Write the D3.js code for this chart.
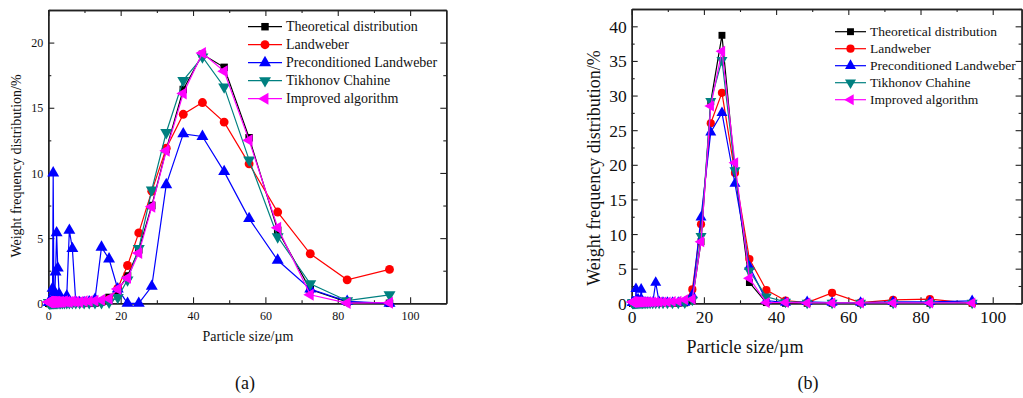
<!DOCTYPE html>
<html>
<head>
<meta charset="utf-8">
<script src="https://cdn.jsdelivr.net/npm/d3@7"></script>
<style>
  body { margin: 0; background: #fff; }
  svg { display: block; font-family: "Liberation Serif", "Times New Roman", serif; }
</style>
</head>
<body>
<div id="chart"></div>
<script>
// particle size classes (µm), shared by both panels
const sizes = [0.21, 0.24, 0.27, 0.31, 0.36, 0.41, 0.47, 0.53, 0.61, 0.69, 0.79, 0.90,
  1.03, 1.18, 1.35, 1.54, 1.76, 2.01, 2.30, 2.62, 3.00, 3.42, 3.91, 4.46, 5.10, 5.82,
  6.65, 7.59, 8.67, 9.90, 11.3, 12.9, 14.7, 16.8, 19.2, 21.9, 25.0, 28.6, 32.6, 37.3,
  42.6, 48.6, 55.5, 63.4, 72.4, 82.6, 94.3];

const seriesNames = ["Theoretical distribution", "Landweber", "Preconditioned Landweber",
  "Tikhonov Chahine", "Improved algorithm"];

// panel (a)
const theoA = [0, 0, 0, 0, 0, 0, 0, 0, 0, 0, 0, 0,
  0, 0, 0, 0, 0, 0, 0, 0, 0, 0, 0, 0, 0, 0,
  0, 0, 0, 0, 0, 0.02, 0.1, 0.45, 1.0, 2.1, 4.1, 7.5, 11.8, 16.4,
  19.1, 18.1, 12.7, 5.6, 1.05, 0.1, 0];
const landA = [0.05, 0.05, 0.05, 0.05, 0.05, 0.05, 0.05, 0.05, 0.05, 0.05, 0.05, 0.05,
  0.05, 0.05, 0.05, 0.05, 0.05, 0.05, 0.05, 0.05, 0.05, 0.05, 0.05, 0.05, 0.05, 0.05,
  0.05, 0.05, 0.05, 0.05, 0.08, 0.1, 0.15, 0.3, 1.15, 2.9, 5.4, 8.6, 11.9, 14.5,
  15.4, 13.9, 10.7, 7.0, 3.8, 1.8, 2.6];
const precA = [0.1, 0.05, 0.1, 0.05, 0.1, 0.05, 0.1, 0.05, 0.1, 0.1, 0.05, 0.1,
  0.2, 1.15, 10.0, 0.9, 0.3, 2.4, 5.4, 2.7, 0.7, 0.3, 0.2, 0.1, 0.55, 5.6,
  4.2, 0.1, 0.05, 0.05, 0.1, 0.3, 4.3, 3.4, 1.1, 0, 0, 1.3, 9.1, 13.0,
  12.8, 10.1, 6.5, 3.3, 1.1, 0.15, 0];
const tikhA = [0.05, 0.05, 0.05, 0.05, 0.05, 0.05, 0.05, 0.05, 0.05, 0.05, 0.05, 0.05,
  0.05, 0.05, 0.05, 0.05, 0.05, 0.05, 0.05, 0.05, 0.05, 0.05, 0.05, 0.05, 0.05, 0.05,
  0.05, 0.05, 0.05, 0.05, 0.05, 0.05, 0.05, 0.1, 0.45, 1.8, 4.2, 8.7, 13.1, 17.1,
  18.9, 16.6, 11.0, 5.1, 1.5, 0.2, 0.65];
const imprA = [0.1, 0.08, 0.1, 0.12, 0.1, 0.08, 0.1, 0.12, 0.1, 0.1, 0.08, 0.1,
  0.12, 0.1, 0.1, 0.12, 0.1, 0.1, 0.12, 0.1, 0.1, 0.12, 0.1, 0.15, 0.12, 0.1,
  0.15, 0.12, 0.1, 0.15, 0.15, 0.2, 0.25, 0.35, 1.1, 1.95, 3.85, 7.4, 11.7, 16.1,
  19.2, 17.8, 12.5, 5.8, 0.65, 0.02, 0.05];

// panel (b)
const theoB = [0, 0, 0, 0, 0, 0, 0, 0, 0, 0, 0, 0,
  0, 0, 0, 0, 0, 0, 0, 0, 0, 0, 0, 0, 0, 0,
  0, 0, 0, 0, 0, 0, 0.05, 0.5, 8.9, 29.1, 38.7, 19.1, 3.0, 0.1,
  0, 0, 0, 0, 0, 0, 0];
const landB = [0.05, 0.05, 0.05, 0.05, 0.05, 0.05, 0.05, 0.05, 0.05, 0.05, 0.05, 0.05,
  0.05, 0.05, 0.05, 0.05, 0.05, 0.05, 0.05, 0.05, 0.05, 0.05, 0.05, 0.05, 0.05, 0.05,
  0.05, 0.05, 0.05, 0.05, 0.05, 0.1, 0.3, 2.0, 11.4, 26.0, 30.4, 18.8, 6.4, 1.9,
  0.4, 0.1, 1.5, 0.1, 0.5, 0.6, 0];
const precB = [0.1, 0.1, 0.1, 0.1, 0.1, 0.1, 0.1, 0.1, 0.1, 0.1, 0.1, 0.1,
  0.1, 2.1, 0.4, 0.2, 0.6, 0.3, 0.2, 2.0, 0.3, 0.1, 0.1, 0.1, 0.1, 0.1,
  3.0, 0.2, 0.1, 0.1, 0.1, 0.1, 0.1, 1.2, 12.4, 24.7, 27.5, 17.3, 5.3, 0.4,
  0.1, 0.2, 0.1, 0.1, 0.2, 0.2, 0.35];
const tikhB = [0.05, 0.05, 0.05, 0.05, 0.05, 0.05, 0.05, 0.05, 0.05, 0.05, 0.05, 0.05,
  0.05, 0.05, 0.05, 0.05, 0.05, 0.05, 0.05, 0.05, 0.05, 0.05, 0.05, 0.05, 0.05, 0.05,
  0.05, 0.05, 0.05, 0.05, 0.05, 0.05, 0.1, 0.5, 9.7, 29.2, 35.1, 19.2, 4.7, 0.95,
  0.2, 0.05, 0.05, 0.05, 0.05, 0.05, 0.05];
const imprB = [0.2, 0.2, 0.2, 0.2, 0.2, 0.2, 0.2, 0.2, 0.2, 0.2, 0.2, 0.2,
  0.2, 0.2, 0.2, 0.2, 0.2, 0.2, 0.2, 0.2, 0.2, 0.2, 0.2, 0.2, 0.2, 0.2,
  0.2, 0.2, 0.2, 0.2, 0.25, 0.3, 0.5, 0.6, 8.9, 28.5, 36.4, 20.3, 3.6, 0.1,
  0.1, 0.05, 0.05, 0.05, 0.05, 0.05, 0.05];

const xTicks = [0, 20, 40, 60, 80, 100];
const xMinor = [10, 30, 50, 70, 90, 110];
const yTicksA = [0, 5, 10, 15, 20];
const yMinorA = [2.5, 7.5, 12.5, 17.5, 22.5];
const yTicksB = [0, 5, 10, 15, 20, 25, 30, 35, 40];
const yMinorB = [2.5, 7.5, 12.5, 17.5, 22.5, 27.5, 32.5, 37.5, 42.5];

const colors = ["#000000", "#ff0000", "#0000ff", "#008080", "#ff00ff"];
// symbol type + rotation for each series
const shapes = [
  { type: d3.symbolSquare, rot: 0, size: 56 },
  { type: d3.symbolCircle, rot: 0, size: 62 },
  { type: d3.symbolTriangle, rot: 0, size: 62 },
  { type: d3.symbolTriangle, rot: 180, size: 62 },
  { type: d3.symbolTriangle, rot: -90, size: 62 }
];

const svg = d3.select("#chart").append("svg")
  .attr("width", 1023)
  .attr("height", 398);

function drawPanel(p) {
  const x = d3.scaleLinear().domain(p.xDomain).range([p.left, p.right]);
  const y = d3.scaleLinear().domain(p.yDomain).range([p.bottom, p.top]);
  const g = svg.append("g");

  // frame + ticks (inward)
  const frameAxis = (axis, tr, vals, len, labels) => {
    const a = g.append("g").attr("transform", tr)
      .call(axis.tickValues(vals).tickSizeInner(len).tickSizeOuter(0)
        .tickFormat(labels ? d3.format("d") : ""));
    a.select(".domain").attr("stroke", "#222").attr("stroke-width", 1.4);
    a.selectAll(".tick line").attr("stroke", "#222").attr("stroke-width", 1.1);
    return a;
  };

  const bx = frameAxis(d3.axisBottom(x), `translate(0,${p.bottom})`, xTicks.filter(v => v <= p.xDomain[1]), -6, true);
  frameAxis(d3.axisBottom(x), `translate(0,${p.bottom})`, xMinor.filter(v => v < p.xDomain[1]), -3, false);
  frameAxis(d3.axisTop(x), `translate(0,${p.top})`, xTicks.filter(v => v <= p.xDomain[1]), -6, false);
  frameAxis(d3.axisTop(x), `translate(0,${p.top})`, xMinor.filter(v => v < p.xDomain[1]), -3, false);
  const ly = frameAxis(d3.axisLeft(y), `translate(${p.left},0)`, p.yTicks, -6, true);
  frameAxis(d3.axisLeft(y), `translate(${p.left},0)`, p.yMinor, -3, false);
  frameAxis(d3.axisRight(y), `translate(${p.right},0)`, p.yTicks, -6, false);
  frameAxis(d3.axisRight(y), `translate(${p.right},0)`, p.yMinor, -3, false);

  bx.selectAll(".tick text")
    .attr("font-family", "Liberation Serif").attr("font-size", p.tickFont)
    .attr("fill", "#111").attr("y", p.xLabelY).attr("dy", 0);
  ly.selectAll(".tick text")
    .attr("font-family", "Liberation Serif").attr("font-size", p.tickFont)
    .attr("fill", "#111").attr("x", -p.yLabelGap).attr("dy", "0.34em");

  // series lines + markers
  p.series.forEach((vals, i) => {
    const pts = sizes.map((s, k) => [s, vals[k]]);
    const line = d3.line().x(d => x(d[0])).y(d => y(d[1]));
    g.append("path")
      .attr("d", line(pts))
      .attr("fill", "none")
      .attr("stroke", colors[i])
      .attr("stroke-width", 1.2);
    const sym = d3.symbol().type(shapes[i].type).size(shapes[i].size * p.markScale);
    g.append("g").selectAll("path")
      .data(pts)
      .join("path")
      .attr("d", sym)
      .attr("fill", colors[i])
      .attr("transform", d => `translate(${x(d[0])},${y(d[1])}) rotate(${shapes[i].rot})`);
  });

  // legend
  seriesNames.forEach((name, i) => {
    const ry = p.legY + i * p.legStep;
    g.append("line")
      .attr("x1", p.legX1).attr("x2", p.legX2)
      .attr("y1", ry).attr("y2", ry)
      .attr("stroke", colors[i]).attr("stroke-width", 1.2);
    const sym = d3.symbol().type(shapes[i].type).size(shapes[i].size * p.markScale);
    g.append("path")
      .attr("d", sym)
      .attr("fill", colors[i])
      .attr("transform", `translate(${(p.legX1 + p.legX2) / 2},${ry}) rotate(${shapes[i].rot})`);
    g.append("text")
      .attr("x", p.legX2 + 4).attr("y", ry).attr("dy", "0.34em")
      .attr("font-size", p.legFont).attr("fill", "#111")
      .text(name);
  });

  // axis titles
  g.append("text")
    .attr("x", p.xTitleX).attr("y", p.xTitleY)
    .attr("text-anchor", "middle")
    .attr("font-size", p.titleFont).attr("fill", "#111")
    .text("Particle size/\u00b5m");
  g.append("text")
    .attr("transform", `translate(${p.yTitleX},${p.yTitleY}) rotate(-90)`)
    .attr("text-anchor", "middle")
    .attr("font-size", p.titleFont).attr("fill", "#111")
    .text("Weight frequency distribution/%");

  // caption
  g.append("text")
    .attr("x", p.capX).attr("y", 389)
    .attr("text-anchor", "middle")
    .attr("font-size", 18).attr("fill", "#111")
    .text(p.caption);
}

drawPanel({
  xDomain: [0, 110], yDomain: [0, 22.5],
  left: 48.3, right: 446.3, top: 10, bottom: 303.3,
  yTicks: yTicksA, yMinor: yMinorA,
  series: [theoA, landA, precA, tikhA, imprA],
  tickFont: 12, xLabelY: 17, yLabelGap: 5, markScale: 1,
  legX1: 248, legX2: 282, legY: 26.7, legStep: 18, legFont: 14,
  titleFont: 14, xTitleX: 248, xTitleY: 341, yTitleX: 21, yTitleY: 166,
  capX: 245, caption: "(a)"
});

drawPanel({
  xDomain: [0, 108], yDomain: [0, 42.5],
  left: 631.7, right: 1021.6, top: 9, bottom: 303.3,
  yTicks: yTicksB, yMinor: yMinorB,
  series: [theoB, landB, precB, tikhB, imprB],
  tickFont: 17.5, xLabelY: 20, yLabelGap: 5, markScale: 0.85,
  legX1: 835, legX2: 866, legY: 31.7, legStep: 17, legFont: 13.5,
  titleFont: 18, xTitleX: 745, xTitleY: 353, yTitleX: 600, yTitleY: 168,
  capX: 808, caption: "(b)"
});
</script>
</body>
</html>
